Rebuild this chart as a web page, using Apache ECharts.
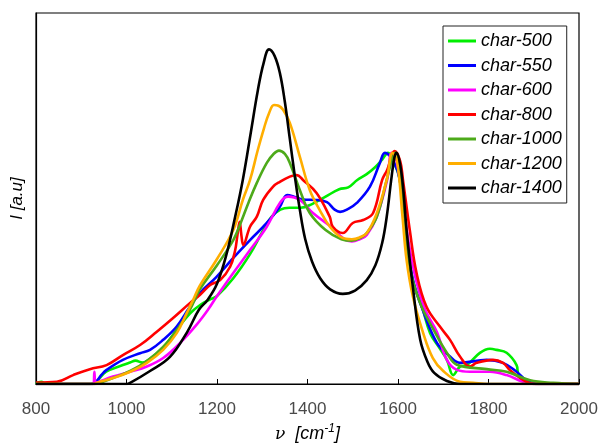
<!DOCTYPE html>
<html>
<head>
<meta charset="utf-8">
<script src="https://cdn.jsdelivr.net/npm/echarts@6/dist/echarts.min.js"></script>
<style>html,body{margin:0;padding:0;background:#fff}#c{width:598px;height:443px}</style>
</head>
<body>
<div id="c"></div>
<script>
const xTicks = [800, 1000, 1200, 1400, 1600, 1800, 2000];
const seriesNames = ['char-500','char-550','char-600','char-800','char-1000','char-1200','char-1400'];

const char500 = [[800,0],[805,0.004],[812,0.006],[820,0.002],[830,0],[920,0],[933,0.006],[955,0.033],[992,0.051],[1008,0.058],[1020,0.063],[1035,0.058],[1052,0.068],[1082,0.1],[1111,0.146],[1140,0.19],[1165,0.215],[1185,0.228],[1200,0.237],[1236,0.285],[1273,0.35],[1300,0.41],[1320,0.45],[1340,0.47],[1360,0.475],[1385,0.475],[1410,0.485],[1440,0.505],[1470,0.525],[1490,0.53],[1510,0.55],[1530,0.565],[1550,0.585],[1565,0.605],[1578,0.623],[1590,0.6],[1604,0.55],[1619,0.388],[1633,0.28],[1655,0.2],[1671,0.137],[1690,0.1],[1708,0.065],[1722,0.024],[1737,0.047],[1752,0.051],[1781,0.084],[1803,0.095],[1818,0.092],[1840,0.084],[1862,0.051],[1865,0.03],[1870,0.016],[1884,0.006],[1910,0],[2000,0]];

const char550 = [[800,0],[925,0],[933,0.006],[945,0.025],[956,0.038],[992,0.065],[1030,0.083],[1052,0.092],[1081,0.119],[1111,0.155],[1140,0.208],[1162,0.245],[1199,0.289],[1236,0.34],[1273,0.388],[1310,0.434],[1339,0.478],[1355,0.509],[1370,0.505],[1390,0.497],[1420,0.496],[1443,0.49],[1460,0.47],[1472,0.464],[1490,0.472],[1509,0.488],[1538,0.532],[1560,0.596],[1571,0.623],[1590,0.6],[1604,0.55],[1619,0.388],[1633,0.28],[1655,0.199],[1686,0.111],[1715,0.074],[1737,0.057],[1796,0.065],[1832,0.057],[1862,0.033],[1884,0.01],[1910,0],[2000,0]];

const char600 = [[800,0],[927,0],[929,0.033],[932,0.004],[970,0.02],[1008,0.033],[1045,0.047],[1081,0.07],[1118,0.11],[1155,0.16],[1180,0.2],[1199,0.235],[1236,0.299],[1273,0.361],[1310,0.424],[1340,0.49],[1357,0.505],[1383,0.496],[1412,0.461],[1456,0.42],[1480,0.392],[1498,0.384],[1515,0.39],[1531,0.402],[1553,0.451],[1576,0.55],[1586,0.623],[1597,0.6],[1610,0.5],[1625,0.37],[1640,0.28],[1660,0.2],[1686,0.14],[1708,0.065],[1730,0.038],[1759,0.033],[1803,0.033],[1840,0.024],[1876,0.006],[1900,0],[2000,0]];

const char800 = [[800,0.004],[846,0.006],[882,0.024],[919,0.04],[956,0.051],[992,0.078],[1030,0.105],[1067,0.141],[1103,0.178],[1140,0.218],[1162,0.24],[1185,0.267],[1207,0.28],[1229,0.316],[1240,0.36],[1245,0.4],[1250,0.437],[1254,0.4],[1258,0.375],[1273,0.424],[1288,0.451],[1302,0.496],[1324,0.532],[1339,0.545],[1361,0.559],[1376,0.563],[1390,0.55],[1420,0.515],[1449,0.451],[1456,0.424],[1478,0.407],[1500,0.434],[1523,0.442],[1545,0.461],[1565,0.55],[1576,0.577],[1593,0.628],[1605,0.6],[1611,0.55],[1626,0.415],[1641,0.299],[1663,0.208],[1693,0.154],[1715,0.119],[1737,0.074],[1759,0.047],[1774,0.057],[1810,0.065],[1832,0.057],[1847,0.038],[1870,0.016],[1884,0.006],[1900,0],[2000,0]];

const char1000 = [[800,0],[930,0],[945,0.005],[970,0.016],[1008,0.035],[1045,0.062],[1081,0.1],[1111,0.145],[1140,0.2],[1162,0.255],[1200,0.32],[1236,0.388],[1251,0.43],[1270,0.49],[1288,0.542],[1310,0.596],[1325,0.62],[1337,0.629],[1350,0.62],[1361,0.596],[1383,0.523],[1405,0.461],[1440,0.415],[1475,0.39],[1498,0.386],[1520,0.396],[1531,0.407],[1553,0.45],[1575,0.55],[1588,0.61],[1595,0.623],[1605,0.58],[1626,0.315],[1649,0.218],[1677,0.15],[1710,0.08],[1730,0.052],[1796,0.04],[1840,0.033],[1892,0.01],[1943,0.003],[2000,0]];

const char1200 = [[800,0],[930,0],[933,0.003],[970,0.016],[1008,0.033],[1045,0.057],[1081,0.092],[1111,0.137],[1133,0.191],[1147,0.226],[1162,0.265],[1199,0.335],[1236,0.415],[1257,0.496],[1273,0.55],[1290,0.63],[1304,0.69],[1315,0.73],[1326,0.752],[1336,0.75],[1346,0.739],[1361,0.704],[1383,0.613],[1405,0.523],[1427,0.469],[1450,0.423],[1475,0.395],[1498,0.39],[1515,0.395],[1531,0.407],[1553,0.46],[1575,0.55],[1588,0.623],[1598,0.6],[1610,0.45],[1619,0.334],[1633,0.235],[1655,0.14],[1677,0.07],[1700,0.035],[1737,0.006],[1766,0.003],[1800,0],[2000,0]];

const char1400 = [[800,0],[1000,0],[1008,0.003],[1052,0.035],[1096,0.073],[1134,0.14],[1160,0.2],[1180,0.228],[1200,0.27],[1220,0.345],[1240,0.45],[1257,0.55],[1275,0.68],[1290,0.79],[1303,0.865],[1315,0.902],[1327,0.885],[1339,0.838],[1350,0.76],[1361,0.66],[1372,0.56],[1383,0.47],[1395,0.39],[1410,0.33],[1428,0.285],[1450,0.255],[1478,0.243],[1505,0.252],[1531,0.28],[1550,0.32],[1565,0.38],[1575,0.45],[1585,0.55],[1592,0.61],[1597,0.623],[1605,0.59],[1612,0.52],[1619,0.415],[1633,0.26],[1649,0.12],[1665,0.06],[1680,0.03],[1708,0.008],[1737,0],[2000,0]];

const seriesData = [char500, char550, char600, char800, char1000, char1200, char1400];
const colors = ['#00ee00','#0000ff','#ff00ff','#ff0000','#4daa1a','#ffae00','#000000'];

const chart = echarts.init(document.getElementById('c'), null, {renderer:'canvas'});
chart.setOption({
  animation: false,
  grid: {left: 36, right: 19, top: 13, bottom: 59, show: true, borderColor: '#000', borderWidth: 1.2, containLabel: false, outerBoundsMode: 'none'},
  legend: {
    orient: 'vertical', left: 443, top: 26,
    data: seriesNames.map(n => ({name: n, icon: 'rect'})),
    itemWidth: 28, itemHeight: 3, itemGap: 6.5, padding: [6, 5, 6, 5],
    backgroundColor: '#fff', borderColor: '#222', borderWidth: 1,
    textStyle: {fontFamily: 'Liberation Sans', fontStyle: 'italic', fontSize: 18, color: '#000', lineHeight: 18}
  },
  xAxis: {
    type: 'value', min: 800, max: 2000, interval: 200,
    axisLine: {show: true, lineStyle: {color: '#000', width: 1.2}},
    axisTick: {show: true, inside: true, length: 5, lineStyle: {color: '#000'}},
    axisLabel: {fontFamily: 'Liberation Sans', fontSize: 17, color: '#4a4a4a', margin: 17,
      formatter: v => xTicks.includes(v) ? String(v) : ''},
    splitLine: {show: false},
    name: '{n|ν}   {b|[cm}{s|-1}{b|]}',
    nameLocation: 'middle', nameGap: 39,
    nameTextStyle: {rich: {
      n: {fontFamily: 'DejaVu Serif', fontStyle: 'italic', fontSize: 17, color: '#000', verticalAlign: 'bottom'},
      b: {fontFamily: 'Liberation Sans', fontStyle: 'italic', fontSize: 18, color: '#000', verticalAlign: 'bottom'},
      s: {fontFamily: 'Liberation Sans', fontStyle: 'italic', fontSize: 12, color: '#000', verticalAlign: 'top', padding: [0,0,8,0]}
    }}
  },
  yAxis: {
    type: 'value', min: 0, max: 1,
    axisLine: {show: true, lineStyle: {color: '#000', width: 1.2}},
    axisTick: {show: false}, axisLabel: {show: false}, splitLine: {show: false},
    name: 'I [a.u]', nameLocation: 'middle', nameGap: 10,
    nameTextStyle: {fontFamily: 'Liberation Sans', fontStyle: 'italic', fontSize: 17, color: '#000'}
  },
  series: seriesNames.map((n, i) => ({
    name: n, type: 'line', data: seriesData[i], showSymbol: false, symbol: 'none',
    smooth: 0.4, lineStyle: {color: colors[i], width: 2.6}, itemStyle: {color: colors[i]}
  }))
});
</script>
</body>
</html>
